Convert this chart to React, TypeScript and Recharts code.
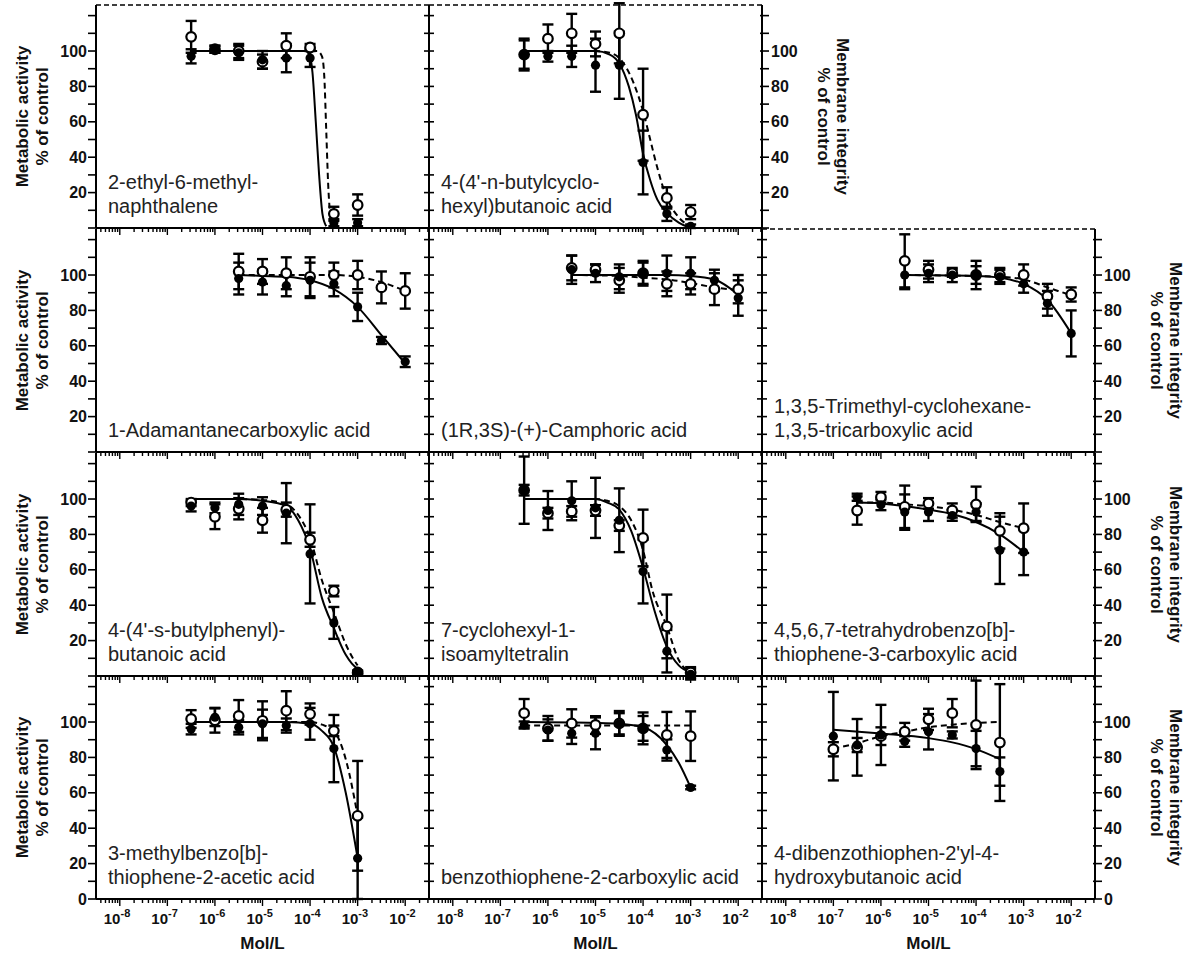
import React from 'react';
import { ComposedChart, Line, XAxis, YAxis, ErrorBar, ReferenceLine } from 'recharts';

const FONT = '"Liberation Sans", Arial, Helvetica, sans-serif';

// x values are log10 of the concentration in Mol/L
const concA = [-6.5, -6, -5.5, -5, -4.5, -4, -3.5, -3];
const concB = [-5.5, -5, -4.5, -4, -3.5, -3, -2.5, -2];
const concC = [-7, -6.5, -6, -5.5, -5, -4.5, -4, -3.5];

const decades = [-8, -7, -6, -5, -4, -3, -2];
const minorDecades = [-9, -8, -7, -6, -5, -4, -3, -2];
const pctTicks = [0, 10, 20, 30, 40, 50, 60, 70, 80, 90, 100, 110, 120];
const pctLabels = [20, 40, 60, 80, 100];
const pctLabelsBottom = [0, 20, 40, 60, 80, 100];

type Pt = [number, number];

// 2-ethyl-6-methyl-naphthalene
const naphName = ['2-ethyl-6-methyl-', 'naphthalene'];
const naphFilled = [97, 101, 99, 95, 96, 96, 3, 3];
const naphFilledSd = [4, 2, 4, 5, 8, 5, 2, 2];
const naphOpen = [108, 101, 100, 94, 103, 102, 8, 13];
const naphOpenSd = [9, 2, 4, 4, 7, 2, 4, 6];
const naphSolid: Pt[] = [[-6.5, 100], [-4.1, 100], [-4.0, 97], [-3.95, 88], [-3.88, 60], [-3.81, 30], [-3.74, 8], [-3.66, 1]];
const naphDashed: Pt[] = [[-6.5, 100], [-3.85, 100], [-3.75, 97], [-3.7, 85], [-3.66, 55], [-3.62, 25], [-3.58, 8], [-3.55, 1]];

// 4-(4'-n-butylcyclohexyl)butanoic acid
const cyclName = ["4-(4'-n-butylcyclo-", 'hexyl)butanoic acid'];
const cyclFilled = [98, 97, 97, 92, 92, 37, 8, 1];
const cyclFilledSd = [8, 3, 6, 15, 19, 18, 4, 1];
const cyclOpen = [98, 107, 110, 104, 110, 64, 17, 9];
const cyclOpenSd = [9, 8, 11, 7, 17, 26, 6, 4];
const cyclSolid: Pt[] = [[-6.5, 100], [-5, 100], [-4.7, 98], [-4.5, 93], [-4.3, 80], [-4.15, 64], [-4, 42], [-3.85, 27], [-3.7, 16], [-3.5, 8.5], [-3.25, 3], [-3, 0]];
const cyclDashed: Pt[] = [[-6.5, 100], [-5, 100], [-4.7, 99], [-4.5, 96], [-4.2, 82], [-4, 66], [-3.85, 50], [-3.7, 34], [-3.5, 17], [-3.25, 6], [-3, 1]];

// 1-Adamantanecarboxylic acid
const adamName = ['1-Adamantanecarboxylic acid'];
const adamFilled = [98, 96, 94, 97, 95, 82, 63, 51];
const adamFilledSd = [9, 7, 6, 10, 7, 8, 2, 3];
const adamOpen = [102, 102, 101, 99, 100, 100, 93, 91];
const adamOpenSd = [10, 7, 9, 11, 7, 8, 9, 10];
const adamSolid: Pt[] = [[-5.5, 100], [-5, 99.5], [-4.5, 99], [-4, 97], [-3.5, 92], [-3, 82], [-2.5, 66], [-2, 50]];
const adamDashed: Pt[] = [[-5.5, 100], [-4, 100], [-3.5, 100], [-3, 99], [-2.5, 96], [-2, 91]];

// (1R,3S)-(+)-Camphoric acid
const campName = ['(1R,3S)-(+)-Camphoric acid'];
const campFilled = [103, 101, 99, 101, 101, 101, 97, 87];
const campFilledSd = [8, 5, 7, 7, 10, 9, 6, 10];
const campOpen = [104, 103, 97, 101, 95, 95, 92, 92];
const campOpenSd = [7, 3, 7, 6, 7, 6, 9, 8];
const campSolid: Pt[] = [[-5.5, 100], [-4, 100], [-3.5, 100], [-3, 99.5], [-2.5, 97.5], [-2, 89]];
const campDashed: Pt[] = [[-5.5, 100], [-4.5, 99.5], [-4, 98.5], [-3.5, 97.5], [-3, 95.5], [-2.5, 93], [-2, 91.5]];

// 1,3,5-Trimethyl-cyclohexane-1,3,5-tricarboxylic acid
const trimName = ['1,3,5-Trimethyl-cyclohexane-', '1,3,5-tricarboxylic acid'];
const trimFilled = [100, 101, 100, 100, 99, 95, 84, 67];
const trimFilledSd = [8, 5, 4, 8, 4, 5, 7, 13];
const trimOpen = [108, 103, 101, 100, 100, 100, 88, 89];
const trimOpenSd = [15, 5, 2, 5, 4, 6, 7, 4];
const trimSolid: Pt[] = [[-5.5, 100], [-4, 99.5], [-3.5, 98.5], [-3, 95], [-2.5, 86], [-2, 67]];
const trimDashed: Pt[] = [[-5.5, 100], [-3.5, 99], [-3, 97.5], [-2.5, 93], [-2, 88.5]];

// 4-(4'-s-butylphenyl)-butanoic acid
const phenName = ["4-(4'-s-butylphenyl)-", 'butanoic acid'];
const phenFilled = [96, 95, 97, 96, 92, 69, 30, 2];
const phenFilledSd = [3, 3, 6, 5, 17, 28, 9, 1];
const phenOpen = [98, 90, 94.5, 88, 94, 77, 48, 2];
const phenOpenSd = [2, 7, 6, 7, 4, 4, 3, 1];
const phenSolid: Pt[] = [[-6.5, 100], [-5.5, 100], [-5, 99], [-4.5, 96], [-4.25, 88], [-4, 72], [-3.75, 44], [-3.5, 27], [-3.25, 12], [-3.12, 7], [-3, 4]];
const phenDashed: Pt[] = [[-6.5, 100], [-5.5, 100], [-5, 99.5], [-4.5, 97], [-4.25, 91], [-4, 78], [-3.75, 54], [-3.5, 36], [-3.25, 18], [-3.1, 10], [-3, 6]];

// 7-cyclohexyl-1-isoamyltetralin
const tetrName = ['7-cyclohexyl-1-', 'isoamyltetralin'];
const tetrFilled = [105, 93.5, 99, 95, 88, 59, 14, 1];
const tetrFilledSd = [19, 11, 11, 17, 18, 18, 12, 3];
const tetrOpen = [105, 92, 93, 93.5, 85, 78, 28, 2];
const tetrOpenSd = [3, 3, 3, 3, 3, 16, 18, 3];
const tetrSolid: Pt[] = [[-6.5, 100], [-5, 100], [-4.75, 98], [-4.5, 94], [-4.25, 82], [-4, 61], [-3.75, 36], [-3.5, 16.5], [-3.25, 6], [-3, 2]];
const tetrDashed: Pt[] = [[-6.5, 100], [-5, 100], [-4.75, 99], [-4.5, 96], [-4.25, 88], [-4, 71], [-3.8, 48], [-3.5, 28], [-3.25, 9], [-3, 2]];

// 4,5,6,7-tetrahydrobenzo[b]thiophene-3-carboxylic acid
const thioName = ['4,5,6,7-tetrahydrobenzo[b]-', 'thiophene-3-carboxylic acid'];
const thioFilled = [101, 96.7, 92.6, 92.6, 90.7, 92.6, 71, 70];
const thioFilledSd = [2, 3, 10, 5, 3, 5, 19, 13];
const thioOpen = [93.5, 101, 95.6, 97.5, 93.5, 97, 82, 83.5];
const thioOpenSd = [8, 3, 12, 3, 4, 10, 10, 14];
const thioSolid: Pt[] = [[-6.5, 98], [-6, 97.5], [-5.5, 96], [-5, 94], [-4.5, 91.5], [-4, 87], [-3.5, 80], [-3, 70]];
const thioDashed: Pt[] = [[-6.5, 98], [-6, 98], [-5.5, 97], [-5, 96], [-4.5, 94], [-4, 91], [-3.5, 87], [-3, 83.5]];

// 3-methylbenzo[b]thiophene-2-acetic acid
const acetName = ['3-methylbenzo[b]-', 'thiophene-2-acetic acid'];
const acetFilled = [96, 102.7, 97, 99, 98, 99, 85, 23];
const acetFilledSd = [3, 5, 4, 8, 4, 9, 19, 23];
const acetOpen = [101.7, 101, 103.4, 100.7, 106.4, 104.5, 95, 47];
const acetOpenSd = [5, 7, 9, 11, 11, 6, 3, 31];
const acetSolid: Pt[] = [[-6.5, 100], [-4.5, 100], [-4, 99], [-3.75, 95], [-3.5, 86], [-3.25, 60], [-3, 23]];
const acetDashed: Pt[] = [[-6.5, 100], [-4, 100], [-3.75, 98.5], [-3.5, 95], [-3.25, 79], [-3, 47]];

// benzothiophene-2-carboxylic acid
const bcarName = ['benzothiophene-2-carboxylic acid'];
const bcarFilled = [98.3, 95.5, 93.6, 93.6, 99, 96.4, 84.2, 63];
const bcarFilledSd = [2, 6, 6, 9, 6, 7, 6, 1];
const bcarOpen = [105, 96.4, 99.2, 98.3, 99.2, 96.4, 92.7, 92];
const bcarOpenSd = [8, 7, 8, 5, 7, 9, 13, 14];
const bcarSolid: Pt[] = [[-6.5, 100], [-5, 99.5], [-4.5, 99], [-4, 97], [-3.5, 87], [-3.25, 77], [-3, 63]];
const bcarDashed: Pt[] = [[-6.5, 98], [-5, 98], [-3, 98]];

// 4-dibenzothiophen-2'yl-4-hydroxybutanoic acid
const dibzName = ["4-dibenzothiophen-2'yl-4-", 'hydroxybutanoic acid'];
const dibzFilled = [92, 87, 92.7, 89, 94.5, 92.7, 85, 72];
const dibzFilledSd = [25, 4, 17, 3, 10, 2, 10, 8];
const dibzOpen = [84.6, 85.7, 92, 94.5, 101.5, 105, 98.4, 88.4];
const dibzOpenSd = [4, 16, 5, 5, 6, 8, 25, 33];
const dibzSolid: Pt[] = [[-7, 95.6], [-6, 93.5], [-5, 90.9], [-4.5, 88.5], [-4, 84.7], [-3.5, 79]];
const dibzDashed: Pt[] = [[-7, 85], [-6.5, 88], [-6, 92], [-5.5, 94.5], [-5, 97], [-4.5, 98.5], [-4, 99.5], [-3.5, 100]];

const COL_LEFT = [96, 429, 762];
const ROW_BOTTOM = [228, 452, 676, 899];
const PW = 333;
const PH = 223;
const L = 60;
const R = 60;
const T = 8;
const B = 50;

const xMinor = minorDecades
  .flatMap((d) => [2, 3, 4, 5, 6, 7, 8, 9].map((k) => d + Math.log10(k)))
  .filter((v) => v > -8.5 && v < -1.5);
const xTicks = [...decades, ...xMinor].sort((a, b) => a - b);

interface PanelDef {
  name: string[];
  conc: number[];
  filled: number[];
  filledSd: number[];
  open: number[];
  openSd: number[];
  solid: Pt[];
  dashed: Pt[];
  row: number;
  col: number;
}

const panels: PanelDef[] = [
  { name: naphName, conc: concA, filled: naphFilled, filledSd: naphFilledSd, open: naphOpen, openSd: naphOpenSd, solid: naphSolid, dashed: naphDashed, row: 0, col: 0 },
  { name: cyclName, conc: concA, filled: cyclFilled, filledSd: cyclFilledSd, open: cyclOpen, openSd: cyclOpenSd, solid: cyclSolid, dashed: cyclDashed, row: 0, col: 1 },
  { name: adamName, conc: concB, filled: adamFilled, filledSd: adamFilledSd, open: adamOpen, openSd: adamOpenSd, solid: adamSolid, dashed: adamDashed, row: 1, col: 0 },
  { name: campName, conc: concB, filled: campFilled, filledSd: campFilledSd, open: campOpen, openSd: campOpenSd, solid: campSolid, dashed: campDashed, row: 1, col: 1 },
  { name: trimName, conc: concB, filled: trimFilled, filledSd: trimFilledSd, open: trimOpen, openSd: trimOpenSd, solid: trimSolid, dashed: trimDashed, row: 1, col: 2 },
  { name: phenName, conc: concA, filled: phenFilled, filledSd: phenFilledSd, open: phenOpen, openSd: phenOpenSd, solid: phenSolid, dashed: phenDashed, row: 2, col: 0 },
  { name: tetrName, conc: concA, filled: tetrFilled, filledSd: tetrFilledSd, open: tetrOpen, openSd: tetrOpenSd, solid: tetrSolid, dashed: tetrDashed, row: 2, col: 1 },
  { name: thioName, conc: concA, filled: thioFilled, filledSd: thioFilledSd, open: thioOpen, openSd: thioOpenSd, solid: thioSolid, dashed: thioDashed, row: 2, col: 2 },
  { name: acetName, conc: concA, filled: acetFilled, filledSd: acetFilledSd, open: acetOpen, openSd: acetOpenSd, solid: acetSolid, dashed: acetDashed, row: 3, col: 0 },
  { name: bcarName, conc: concA, filled: bcarFilled, filledSd: bcarFilledSd, open: bcarOpen, openSd: bcarOpenSd, solid: bcarSolid, dashed: bcarDashed, row: 3, col: 1 },
  { name: dibzName, conc: concC, filled: dibzFilled, filledSd: dibzFilledSd, open: dibzOpen, openSd: dibzOpenSd, solid: dibzSolid, dashed: dibzDashed, row: 3, col: 2 },
];

const XTick = (props: any) => {
  const { x, y, payload, showLabel } = props;
  const v = payload.value;
  const major = Math.abs(v - Math.round(v)) < 1e-6;
  return (
    <g>
      <line x1={x} x2={x} y1={y} y2={y + (major ? 7 : 4)} stroke="#000" strokeWidth={1.4} />
      {showLabel && major && (
        <text x={x - 16} y={y + 25} fontFamily={FONT} fontWeight="bold" fontSize={15} fill="#111">
          10<tspan dy={-7} fontSize={11}>{Math.round(v)}</tspan>
        </text>
      )}
    </g>
  );
};

const YTick = (props: any) => {
  const { x, y, payload, mode, labels } = props;
  const v = payload.value;
  let x1 = x - 5;
  let x2 = x + 5;
  if (mode === 'out') { x1 = x - 8; x2 = x; }
  if (mode === 'right') { x1 = x - 2; x2 = x + 7; }
  const show = labels && labels.includes(v);
  return (
    <g>
      <line x1={x1} x2={x2} y1={y} y2={y} stroke="#000" strokeWidth={1.6} />
      {show && (
        <text
          x={mode === 'out' ? x - 9 : x + 9}
          y={y}
          textAnchor={mode === 'out' ? 'end' : 'start'}
          dominantBaseline="central"
          fontFamily={FONT}
          fontWeight="bold"
          fontSize={16}
          fill="#111"
        >
          {v}
        </text>
      )}
    </g>
  );
};

const FilledDot = (props: any) => {
  const { cx, cy, index } = props;
  if (cx == null || cy == null) return <g key={index} />;
  return <circle key={index} cx={cx} cy={cy} r={4.6} fill="#000" />;
};

const OpenDot = (props: any) => {
  const { cx, cy, index } = props;
  if (cx == null || cy == null) return <g key={index} />;
  return <circle key={index} cx={cx} cy={cy} r={4.8} fill="#fff" stroke="#000" strokeWidth={2.2} />;
};

const Panel = ({ p }: { p: PanelDef }) => {
  const hasRight = (p.row === 0 && p.col === 1) || (p.row > 0 && p.col === 2);
  const topDashed = p.row === 0 || (p.row === 1 && p.col === 2);
  const bottomRow = p.row === 3;
  const labels = bottomRow ? pctLabelsBottom : pctLabels;
  const plotTop = ROW_BOTTOM[p.row] - PH;
  const filledData = p.conc.map((x, i) => ({ x, y: p.filled[i], sd: p.filledSd[i] }));
  const openData = p.conc.map((x, i) => ({ x, y: p.open[i], sd: p.openSd[i] }));
  const solidData = p.solid.map(([x, y]) => ({ x, y }));
  const dashedData = p.dashed.map(([x, y]) => ({ x, y }));

  return (
    <div style={{ position: 'absolute', left: COL_LEFT[p.col] - L, top: plotTop - T }}>
      <ComposedChart
        width={L + PW + R}
        height={T + PH + B}
        margin={{ top: T, right: hasRight ? 0 : R, bottom: 0, left: 0 }}
      >
        <XAxis
          type="number"
          dataKey="x"
          domain={[-8.5, -1.5]}
          allowDataOverflow
          ticks={xTicks}
          interval={0}
          height={B}
          tickLine={false}
          tickSize={0}
          tickMargin={0}
          axisLine={{ stroke: '#000', strokeWidth: 2 }}
          tick={(tp: any) => <XTick {...tp} showLabel={bottomRow} />}
        />
        <YAxis
          yAxisId="l"
          type="number"
          domain={[0, 126]}
          allowDataOverflow
          ticks={pctTicks}
          interval={0}
          width={L}
          tickLine={false}
          tickSize={0}
          tickMargin={0}
          axisLine={{ stroke: '#000', strokeWidth: 2 }}
          tick={(tp: any) => <YTick {...tp} mode={p.col === 0 ? 'out' : 'cross'} labels={p.col === 0 ? labels : null} />}
        />
        {hasRight && (
          <YAxis
            yAxisId="r"
            orientation="right"
            type="number"
            domain={[0, 126]}
            allowDataOverflow
            ticks={pctTicks}
            interval={0}
            width={R}
            tickLine={false}
            tickSize={0}
            tickMargin={0}
            axisLine={{ stroke: '#000', strokeWidth: 2 }}
            tick={(tp: any) => <YTick {...tp} mode="right" labels={labels} />}
          />
        )}
        {topDashed && (
          <ReferenceLine yAxisId="l" y={126} stroke="#000" strokeWidth={1.5} strokeDasharray="5 3" />
        )}
        <Line
          yAxisId="l"
          data={solidData}
          dataKey="y"
          type="monotone"
          stroke="#000"
          strokeWidth={2}
          dot={false}
          activeDot={false}
          isAnimationActive={false}
        />
        <Line
          yAxisId="l"
          data={dashedData}
          dataKey="y"
          type="monotone"
          stroke="#000"
          strokeWidth={2}
          strokeDasharray="6 4"
          dot={false}
          activeDot={false}
          isAnimationActive={false}
        />
        <Line
          yAxisId="l"
          data={openData}
          dataKey="y"
          stroke="none"
          dot={OpenDot}
          activeDot={false}
          isAnimationActive={false}
        >
          <ErrorBar dataKey="sd" direction="y" width={5.5} stroke="#000" strokeWidth={2.4} isAnimationActive={false} />
        </Line>
        <Line
          yAxisId="l"
          data={filledData}
          dataKey="y"
          stroke="none"
          dot={FilledDot}
          activeDot={false}
          isAnimationActive={false}
        >
          <ErrorBar dataKey="sd" direction="y" width={5.5} stroke="#000" strokeWidth={2.4} isAnimationActive={false} />
        </Line>
      </ComposedChart>
    </div>
  );
};

const Overlay = () => {
  const rowCenter = (r: number) => ROW_BOTTOM[r] - PH / 2;
  const titleStyle = { fontFamily: FONT, fontWeight: 'bold' as const, fontSize: 17, fill: '#111' };
  return (
    <svg width={1197} height={956} style={{ position: 'absolute', left: 0, top: 0, pointerEvents: 'none' }}>
      {[0, 1, 2, 3].map((r) => (
        <g key={'lt' + r}>
          <text x={22} y={rowCenter(r)} transform={`rotate(-90 22 ${rowCenter(r)})`} textAnchor="middle" dominantBaseline="central" {...titleStyle}>
            Metabolic activity
          </text>
          <text x={42} y={rowCenter(r)} transform={`rotate(-90 42 ${rowCenter(r)})`} textAnchor="middle" dominantBaseline="central" {...titleStyle}>
            % of control
          </text>
        </g>
      ))}
      {[0, 1, 2, 3].map((r) => {
        const base = r === 0 ? COL_LEFT[2] : COL_LEFT[2] + PW;
        const x1 = base + 80;
        const x2 = base + 61;
        const cy = rowCenter(r);
        return (
          <g key={'rt' + r}>
            <text x={x1} y={cy} transform={`rotate(90 ${x1} ${cy})`} textAnchor="middle" dominantBaseline="central" {...titleStyle}>
              Membrane integrity
            </text>
            <text x={x2} y={cy} transform={`rotate(90 ${x2} ${cy})`} textAnchor="middle" dominantBaseline="central" {...titleStyle}>
              % of control
            </text>
          </g>
        );
      })}
      {COL_LEFT.map((cl, i) => (
        <text key={'mol' + i} x={cl + PW / 2} y={949} textAnchor="middle" {...titleStyle}>
          Mol/L
        </text>
      ))}
      {panels.map((p, i) => {
        const left = COL_LEFT[p.col] + 12;
        const bottom = ROW_BOTTOM[p.row];
        const lines = p.name;
        return (
          <g key={'nm' + i}>
            {lines.map((ln, j) => (
              <text
                key={j}
                x={left}
                y={bottom - 15 - (lines.length - 1 - j) * 24}
                fontFamily={FONT}
                fontSize={20}
                fill="#222"
              >
                {ln}
              </text>
            ))}
          </g>
        );
      })}
    </svg>
  );
};

export default function App() {
  return (
    <div style={{ position: 'absolute', left: 0, top: 0, width: 1197, height: 956, background: '#fff' }}>
      {panels.map((p, i) => (
        <Panel key={i} p={p} />
      ))}
      <Overlay />
    </div>
  );
}
